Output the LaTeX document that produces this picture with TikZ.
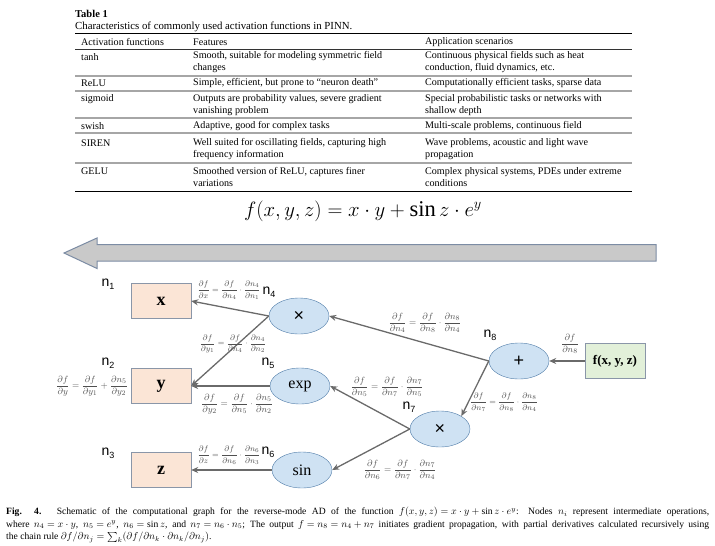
\documentclass[tikz,border=0pt]{standalone}
\usepackage{amsmath}
\usepackage{fontspec}
\setmainfont{Liberation Serif}
\setsansfont{Liberation Sans}
\usetikzlibrary{shapes.geometric,arrows.meta,positioning}
\definecolor{boxfill}{HTML}{FBE5D6}
\definecolor{outfill}{HTML}{E2F0D9}
\definecolor{opfill}{HTML}{CFE2F3}
\definecolor{opline}{HTML}{4F7BA8}
\definecolor{boxline}{HTML}{8A96A8}
\definecolor{arrowgray}{HTML}{6A6A6A}
\definecolor{gradtext}{HTML}{505050}
\definecolor{bigfill}{HTML}{C9C9C9}
\definecolor{bigline}{HTML}{7C8CA4}
\newcommand{\nsub}[1]{\raisebox{-0.35ex}{\fontsize{9}{9}\selectfont #1}}
\newcommand{\pd}[2]{\dfrac{\partial #1}{\partial #2}}
\tikzset{
  tab/.style={anchor=west,inner sep=0pt,align=left,font=\fontsize{10.1}{12}\selectfont},
  inbox/.style={draw=boxline,fill=boxfill,minimum width=60pt,minimum height=35pt,inner sep=0pt,font=\fontsize{18}{18}\selectfont\bfseries},
  outbox/.style={inbox,fill=outfill,font=\fontsize{13}{13}\selectfont\bfseries},
  opnode/.style={ellipse,draw=opline,fill=opfill,minimum width=60pt,minimum height=36pt,inner sep=0pt,font=\fontsize{16}{16}\selectfont},
  nlab/.style={inner sep=0pt,font=\sffamily\fontsize{14}{14}\selectfont},
  grad/.style={inner sep=0pt,text=gradtext,font=\fontsize{8}{8}\selectfont},
  biggrad/.style={grad,font=\fontsize{9.5}{9.5}\selectfont},
  back/.style={draw=arrowgray,line width=1.3pt,-{Stealth[length=7pt,width=6pt]}}
}
\begin{document}
\begin{tikzpicture}[x=1pt,y=-1pt]
\useasboundingbox (0,0) rectangle (715,546);
\node[tab,font=\fontsize{10.5}{12}\selectfont\bfseries] (tabno) at (75,14) {Table 1};
\node[tab,font=\fontsize{10.8}{12}\selectfont] (tabcap) at (75,27) {Characteristics of commonly used activation functions in PINN.};
\draw[line width=0.8pt] (75,33) -- (632,33);
\draw[line width=1pt,black!80] (75,49) -- (632,49);
\foreach \yr in {76,91,118,133,163} \draw[line width=1.2pt,black!35] (75,\yr) -- (632,\yr);
\draw[line width=0.8pt] (75,191) -- (632,191);
\node[tab] (h1) at (81,42) {Activation functions};
\node[tab] (h2) at (193,42) {Features};
\node[tab] (h3) at (425,42) {Application scenarios};
\node[tab] (r1a) at (81,57) {tanh};
\node[tab] (r1b) at (193,62.5) {Smooth, suitable for modeling symmetric field\\changes};
\node[tab] (r1c) at (425,62.5) {Continuous physical fields such as heat\\conduction, fluid dynamics, etc.};
\node[tab] (r2a) at (81,83) {ReLU};
\node[tab] (r2b) at (193,83) {Simple, efficient, but prone to ``neuron death''};
\node[tab] (r2c) at (425,83) {Computationally efficient tasks, sparse data};
\node[tab] (r3a) at (81,99) {sigmoid};
\node[tab] (r3b) at (193,105) {Outputs are probability values, severe gradient\\vanishing problem};
\node[tab] (r3c) at (425,105) {Special probabilistic tasks or networks with\\shallow depth};
\node[tab] (r4a) at (81,126) {swish};
\node[tab] (r4b) at (193,126) {Adaptive, good for complex tasks};
\node[tab] (r4c) at (425,126) {Multi-scale problems, continuous field};
\node[tab] (r5a) at (81,143) {SIREN};
\node[tab] (r5b) at (193,149) {Well suited for oscillating fields, capturing high\\frequency information};
\node[tab] (r5c) at (425,149) {Wave problems, acoustic and light wave\\propagation};
\node[tab] (r6a) at (81,171) {GELU};
\node[tab] (r6b) at (193,177) {Smoothed version of ReLU, captures finer\\variations};
\node[tab] (r6c) at (425,177) {Complex physical systems, PDEs under extreme\\conditions};
\node[font=\fontsize{22.5}{22.5}\selectfont] (func) at (363,211) {$f(x,y,z)=x\cdot y+\sin z\cdot e^{y}$};
\draw[draw=bigline,fill=bigfill,line width=1pt] (656,244.5) -- (97,244.5) -- (97,238) -- (64,253) -- (97,268.5) -- (97,261) -- (656,261) -- cycle;
\node[inbox] (n1) at (161,301) {x};
\node[inbox] (n2) at (161,386) {y};
\node[inbox] (n3) at (161,470) {z};
\node[opnode] (n4) at (299,316) {\sffamily\fontsize{18}{18}\selectfont ×};
\node[opnode] (n5) at (300,386) {exp};
\node[opnode] (n6) at (302,470) {sin};
\node[opnode] (n7) at (440,429) {\sffamily\fontsize{18}{18}\selectfont ×};
\node[opnode] (n8) at (519,361) {\sffamily\fontsize{18}{18}\selectfont +};
\node[outbox] (fout) at (615,361) {f(x, y, z)};
\node[nlab] (l1) at (108,284) {n\nsub{1}};
\node[nlab] (l2) at (108,363) {n\nsub{2}};
\node[nlab] (l3) at (108,453) {n\nsub{3}};
\node[nlab] (l4) at (269,292) {n\nsub{4}};
\node[nlab] (l5) at (268,363) {n\nsub{5}};
\node[nlab] (l6) at (268,452) {n\nsub{6}};
\node[nlab] (l7) at (409,407) {n\nsub{7}};
\node[nlab] (l8) at (490,335) {n\nsub{8}};
\draw[back] (n4.west) -- (n1.east);
\draw[back] (n4.west) -- (n2.east);
\draw[back] (n5.west) -- (n2.east);
\draw[back] (n6.west) -- (n3.east);
\draw[back] (n7.west) -- (n5.east);
\draw[back] (n7.west) -- (n6.east);
\draw[back] (n8.west) -- (n4.east);
\draw[back] (n8.west) -- (n7.north east);
\draw[back] (fout.west) -- (n8.east);
\node[grad] (g1) at (229,290) {$\pd{f}{x}=\pd{f}{n_4}\cdot\pd{n_4}{n_1}$};
\node[grad] (g2) at (233,344) {$\pd{f}{y_1}=\pd{f}{n_4}\cdot\pd{n_4}{n_2}$};
\node[biggrad] (g3) at (92,386) {$\pd{f}{y}=\pd{f}{y_1}+\pd{n_5}{y_2}$};
\node[biggrad] (g4) at (237,404) {$\pd{f}{y_2}=\pd{f}{n_5}\cdot\pd{n_5}{n_2}$};
\node[grad] (g5) at (229,455) {$\pd{f}{z}=\pd{f}{n_6}\cdot\pd{n_6}{n_3}$};
\node[biggrad] (g6) at (425,323) {$\pd{f}{n_4}=\pd{f}{n_8}\cdot\pd{n_8}{n_4}$};
\node[biggrad] (g7) at (387,387) {$\pd{f}{n_5}=\pd{f}{n_7}\cdot\pd{n_7}{n_5}$};
\node[grad] (g8) at (504,402) {$\pd{f}{n_7}=\pd{f}{n_8}\cdot\pd{n_8}{n_4}$};
\node[biggrad] (g9) at (400,470) {$\pd{f}{n_6}=\pd{f}{n_7}\cdot\pd{n_7}{n_4}$};
\node[biggrad] (g10) at (570,344) {$\pd{f}{n_8}$};
\node[anchor=north west,inner sep=0pt,text width=703pt,align=justify,font=\fontsize{9.6}{12.5}\selectfont] (figcap) at (6,507) {\medmuskip=4mu\thickmuskip=5mu{\bfseries Fig. 4.}\hspace{1.6em}Schematic of the computational graph for the reverse-mode AD of the function $f(x,y,z)=x\cdot y+\sin z\cdot e^{y}$: Nodes $n_i$ represent intermediate operations,\linebreak where $n_4=x\cdot y$, $n_5=e^{y}$, $n_6=\sin z$, and $n_7=n_6\cdot n_5$; The output $f=n_8=n_4+n_7$ initiates gradient propagation, with partial derivatives calculated recursively using\linebreak the chain rule $\partial f/\partial n_j=\sum_k(\partial f/\partial n_k\cdot\partial n_k/\partial n_j)$.};
\end{tikzpicture}
\end{document}
